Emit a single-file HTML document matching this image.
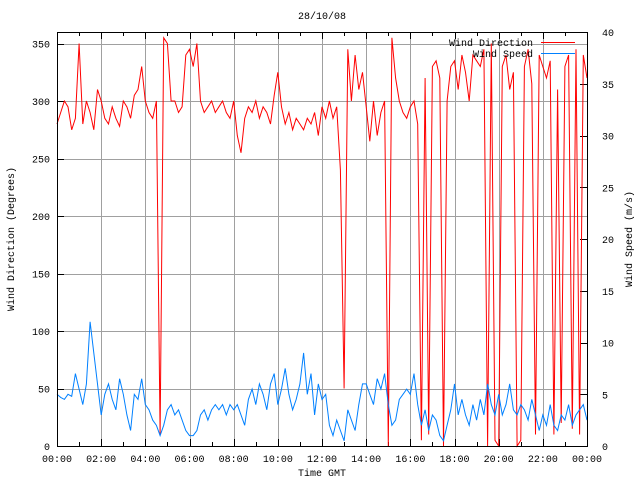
<!DOCTYPE html>
<html><head><meta charset="utf-8"><style>
body{margin:0;background:#fff}
svg{display:block;font-family:"Liberation Mono",monospace;font-size:10px}
</style></head><body>
<svg id="c" width="640" height="480" xmlns="http://www.w3.org/2000/svg"></svg>
<script>
const hours=[];for(let i=0;i<=144;i++)hours.push(i/6);
const direction=[280,290,300,295,275,285,350,280,300,290,275,310,
300,285,280,295,285,278,300,295,285,305,310,330,
300,290,285,300,10,355,350,300,300,290,295,340,
345,330,350,300,290,295,300,290,295,300,290,285,
300,270,255,285,295,290,300,285,295,290,280,305,
325,295,280,290,275,285,280,275,285,280,290,270,
295,285,300,285,295,240,50,345,300,340,310,325,
295,265,300,270,290,300,0,355,320,300,290,285,
295,300,280,5,320,10,330,335,320,0,300,330,
335,310,340,325,300,340,335,330,345,0,350,5,
0,330,340,310,325,0,5,330,345,315,10,340,
330,320,335,10,310,20,330,340,15,345,10,340,320];
const speed=[5,4.7,4.5,5,4.8,7,5.5,4,6,12,9,6,
3,5,6,4.5,3.5,6.5,5,3,1.5,5,4.5,6.5,
4,3.5,2.5,2,1,2,3.5,4,3,3.5,2.5,1.5,
1,1,1.5,3,3.5,2.5,3.5,4,3.5,4,3,4,
3.5,4,3,2,4.5,5.5,4,6,5,3.5,6,7,
4,5.5,7.5,5,3.5,4.5,6,9,5,7,3,6,
4.5,5,2,1,2.5,1.5,0.5,3.5,2.5,1.5,4,6,
6,5,4,6.5,5.5,7,4,2,2.5,4.5,5,5.5,
5,7,4,2,3.5,1.5,3,2.5,1,0.5,2,3.5,
6,3,4.5,3,2,4,2.5,4.5,3,6,4,3,
5,3,4,6,3.5,3,4,3.5,2.5,4.5,3,1.5,
3,2,4,2,1.5,3,2.5,4,2,3,3.5,4,2.5];
const xTicks=["00:00","02:00","04:00","06:00","08:00","10:00","12:00","14:00","16:00","18:00","20:00","22:00","00:00"];
const yLeftTicks=[0,50,100,150,200,250,300,350];
const yRightTicks=[0,5,10,15,20,25,30,35,40];

const L=57,R=587,T=32,B=446;
const xs=h=>L+(R-L)*h/24;
const yl=d=>B-(B-T)*d/360;
const yr=s=>B-(B-T)*s/40;
const svg=document.getElementById('c');
const NS="http://www.w3.org/2000/svg";
function mk(tag,attrs,parent){const e=document.createElementNS(NS,tag);for(const k in attrs)e.setAttribute(k,attrs[k]);(parent||svg).appendChild(e);return e;}

// grid
const grid=mk('g',{stroke:'#a0a0a0','stroke-width':1});


xTicks.forEach((t,i)=>{const x=Math.round(xs(i*2))+0.5;mk('line',{x1:x,x2:x,y1:T,y2:B},grid);});
yLeftTicks.forEach(v=>{const y=Math.round(yl(v))+0.5;mk('line',{x1:L,x2:R,y1:y,y2:y},grid);});
// ticks
const tk=mk('g',{stroke:'#000','stroke-width':1});


for(let h=0;h<=24;h++){const x=Math.round(xs(h))+0.5;const len=h%2?4:7;mk('line',{x1:x,x2:x,y1:B,y2:B-len},tk);mk('line',{x1:x,x2:x,y1:T,y2:T+len},tk);}
yLeftTicks.forEach(v=>{const y=Math.round(yl(v))+0.5;mk('line',{x1:L,x2:L+7,y1:y,y2:y},tk);});
yRightTicks.forEach(v=>{const y=Math.round(yr(v))+0.5;mk('line',{x1:R-7,x2:R,y1:y,y2:y},tk);});

// series
let dp='';direction.forEach((d,i)=>{dp+=(i?'L':'M')+xs(hours[i]).toFixed(1)+' '+yl(d).toFixed(1);});
const dl=mk('path',{d:dp,fill:'none',stroke:'#ff0000','stroke-width':1});


let sp='';speed.forEach((s,i)=>{sp+=(i?'L':'M')+xs(hours[i]).toFixed(1)+' '+yr(s).toFixed(1);});
const sl=mk('path',{d:sp,fill:'none',stroke:'#0080ff','stroke-width':1});



// border
const bd=mk('rect',{x:L+0.5,y:T+0.5,width:R-L,height:B-T,fill:'none',stroke:'#000'});



// labels
xTicks.forEach((t,i)=>{const e=mk('text',{x:xs(i*2),y:462,'text-anchor':'middle'});e.textContent=t;

});
yLeftTicks.forEach(v=>{const e=mk('text',{x:50,y:yl(v)+4,'text-anchor':'end'});e.textContent=v;

});
yRightTicks.forEach(v=>{const e=mk('text',{x:602,y:yr(v)+4,'text-anchor':'start'});e.textContent=v;

});
let e;
e=mk('text',{x:322,y:19,'text-anchor':'middle'});e.textContent='28/10/08';


e=mk('text',{x:322,y:476,'text-anchor':'middle'});e.textContent='Time GMT';


e=mk('text',{x:0,y:0,'text-anchor':'middle',transform:'translate(14,239) rotate(-90)'});e.textContent='Wind Direction (Degrees)';


e=mk('text',{x:0,y:0,'text-anchor':'middle',transform:'translate(632,239) rotate(-90)'});e.textContent='Wind Speed (m/s)';


// legend
e=mk('text',{x:533,y:46,'text-anchor':'end'});e.textContent='Wind Direction';


e=mk('line',{x1:541,x2:575,y1:42.5,y2:42.5,stroke:'#ff0000'});


e=mk('text',{x:533,y:57,'text-anchor':'end'});e.textContent='Wind Speed';


e=mk('line',{x1:541,x2:575,y1:53.5,y2:53.5,stroke:'#0080ff'});


</script>
</body></html>
